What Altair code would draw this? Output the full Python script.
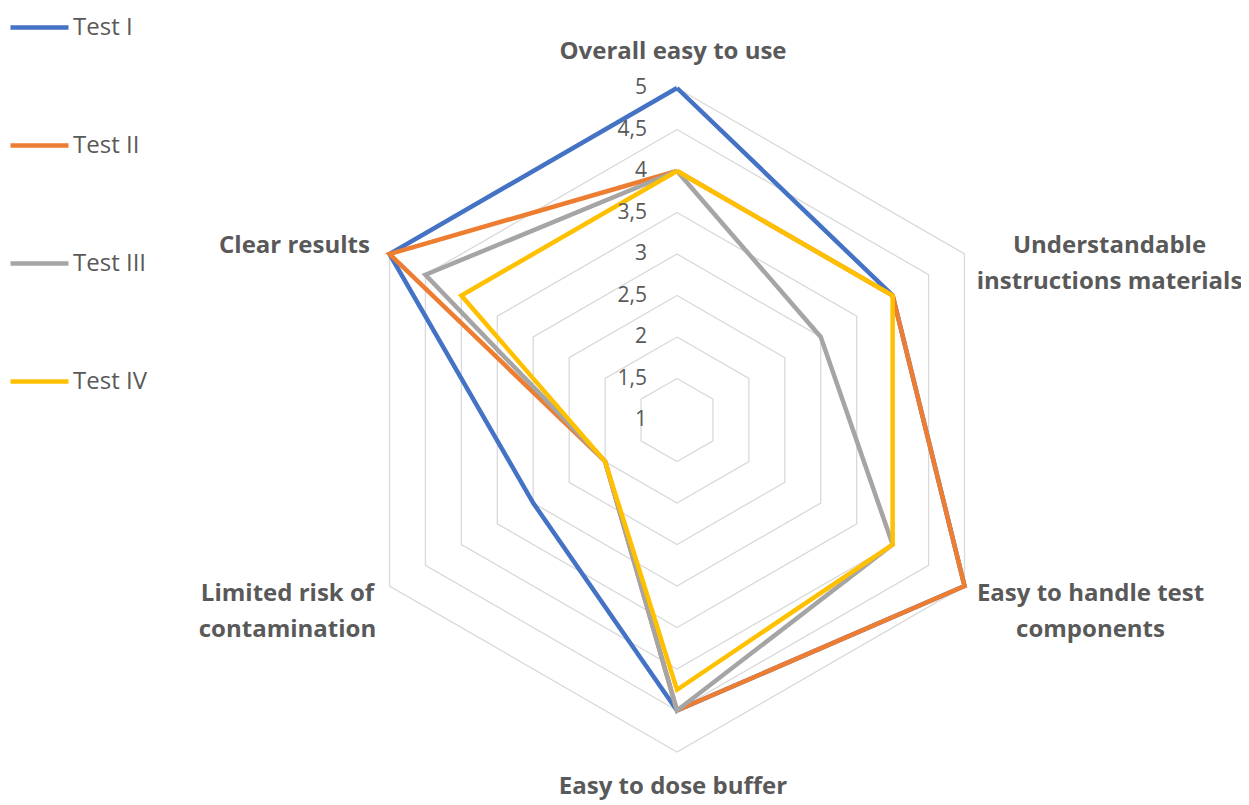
import altair as alt
import pandas as pd

categories = ["Overall easy to use", "Understandable instructions materials",
              "Easy to handle test components", "Easy to dose buffer",
              "Limited risk of contamination", "Clear results"]
category_labels = ["Overall easy to use", "Understandable\ninstructions materials",
                   "Easy to handle test\ncomponents", "Easy to dose buffer",
                   "Limited risk of\ncontamination", "Clear results"]
series_names = ["Test I", "Test II", "Test III", "Test IV"]
test_1 = [5, 4, 5, 4.5, 3, 5]
test_2 = [4, 4, 5, 4.5, 2, 5]
test_3 = [4, 3, 4, 4.5, 2, 4.5]
test_4 = [4, 4, 4, 4.25, 2, 4]
tick_values = [1, 1.5, 2, 2.5, 3, 3.5, 4, 4.5, 5]
tick_labels = ["1", "1,5", "2", "2,5", "3", "3,5", "4", "4,5", "5"]
colors = ["#4472C4", "#ED7D31", "#A5A5A5", "#FFC000"]

n = len(categories)
series_rows = []
for name, vals in zip(series_names, [test_1, test_2, test_3, test_4]):
    for k in range(n + 1):
        i = k % n
        series_rows.append({"series": name, "idx": i, "order": k, "value": vals[i]})
series_df = pd.DataFrame(series_rows)

grid_rows = []
for tv in tick_values[1:]:
    for k in range(n + 1):
        grid_rows.append({"ring": tv, "idx": k % n, "order": k, "value": tv})
grid_df = pd.DataFrame(grid_rows)

label_df = pd.DataFrame({"idx": list(range(n)), "label": category_labels,
                         "value": [tick_values[-1]] * n})
tick_df = pd.DataFrame({"value": tick_values, "label": tick_labels, "idx": [0] * len(tick_values)})

W, H = 1233, 797
CX, CY, UNIT = 669, 412, 83.0
xdom = [-CX / UNIT, (W - CX) / UNIT]
ydom = [-(H - CY) / UNIT, CY / UNIT]

FONT = "Open Sans"

def polar(ch):
    return ch.transform_calculate(
        theta=f"datum.idx * 2 * PI / {n}",
        r="datum.value - 1",
    ).transform_calculate(
        px="datum.r * sin(datum.theta)",
        py="datum.r * cos(datum.theta)",
    )

X = alt.X("px:Q", scale=alt.Scale(domain=xdom, nice=False, zero=False), axis=None)
Y = alt.Y("py:Q", scale=alt.Scale(domain=ydom, nice=False, zero=False), axis=None)

grid = polar(alt.Chart(grid_df)).mark_line(color="#D9D9D9", strokeWidth=1.3).encode(
    x=X, y=Y, detail="ring:N", order="order:Q")

lines = polar(alt.Chart(series_df)).mark_line(strokeWidth=4.5, strokeJoin="miter").encode(
    x=X, y=Y, order="order:Q",
    color=alt.Color("series:N",
                    scale=alt.Scale(domain=series_names, range=colors),
                    legend=alt.Legend(title=None, orient="none", legendX=0, legendY=-12,
                                      symbolType="stroke", symbolSize=3364,
                                      symbolStrokeWidth=4.5, labelFont=FONT,
                                      labelFontSize=24, labelColor="#595959",
                                      labelOffset=2, rowPadding=74, padding=0)))

ticks = polar(alt.Chart(tick_df)).mark_text(
    align="right", baseline="middle", dx=-30, font=FONT, fontSize=21, color="#595959"
).encode(x=X, y=Y, text="label:N")

label_specs = [
    (0, -4, -36),
    (1, 145, -8),
    (2, 126, 8),
    (3, -4, 35),
    (4, -102, 8),
    (5, -95, -8),
]
label_layers = []
for idx, dx, dy in label_specs:
    label_layers.append(
        polar(alt.Chart(label_df).transform_filter(f"datum.idx == {idx}")).mark_text(
            align="center", baseline="middle", dx=dx, dy=dy, font=FONT, fontSize=24,
            fontWeight="bold", color="#595959", lineBreak="\n", lineHeight=36
        ).encode(x=X, y=Y, text="label:N"))

chart = alt.layer(grid, lines, ticks, *label_layers).properties(
    width=W, height=H, padding=0, autosize=alt.AutoSizeParams(type="none")
).configure_view(strokeWidth=0)

chart.save("out.html", embed_options={"renderer": "svg", "actions": False})
